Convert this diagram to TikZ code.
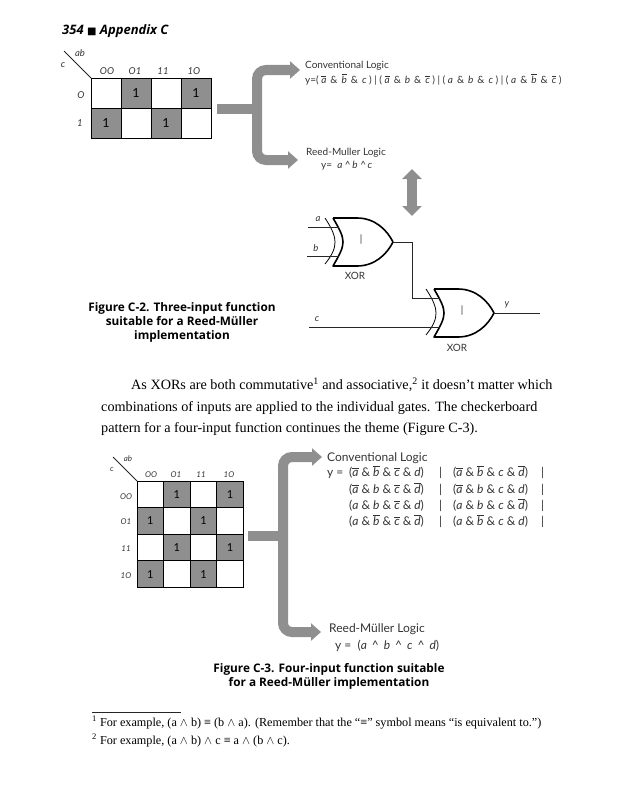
\documentclass[tikz,border=0pt]{standalone}
\usepackage{fontspec}
\setmainfont{Liberation Serif}
\newfontfamily\handfont{Lato}
\newfontfamily\capfont{Open Sans}
\newfontfamily\symbfont{DejaVu Sans}
\usepackage{tikz}
\usetikzlibrary{arrows.meta,calc}

% italic letter, with and without a bar
\newcommand{\vn}[1]{\textit{#1}}
\newcommand{\vb}[1]{$\overline{\hbox{\textit{#1}}}$}
\newcommand{\amp}{\hspace{4pt}\&\hspace{4pt}}
\newcommand{\crt}{\hspace{5pt}\textasciicircum\hspace{5pt}}

\tikzset{
    xorgate/.pic={
        \draw[line width=1.6pt, line join=round] (0,-24) -- (24,-24) .. controls (42,-24) and (54,-12) .. (60,0)
            .. controls (54,12) and (42,24) .. (24,24) -- (0,24)
            .. controls (7,12) and (10,6) .. (10,0) .. controls (10,-6) and (7,-12) .. (0,-24);
        \draw[line width=0.8pt] (-8,-24) .. controls (0,-12) and (2,-5) .. (2,0) .. controls (2,6) and (0,12) .. (-8,22);
        \node[hand] (-op) at (28,-2) {|};
        \coordinate (-ina) at (6,-15);
        \coordinate (-inb) at (6,14);
        \coordinate (-out) at (60,0);
    }
}

\begin{document}
\begin{tikzpicture}[x=1pt, y=-1pt,
    hand/.style={font=\handfont\fontsize{10}{11}\selectfont, text=black!80, inner sep=0pt},
    handbig/.style={font=\handfont\fontsize{12}{13}\selectfont, text=black!80, inner sep=0pt, anchor=base west},
    smallhand/.style={hand, font=\handfont\itshape\fontsize{9.5}{10}\selectfont},
    tinyhand/.style={hand, font=\handfont\itshape\fontsize{8}{9}\selectfont},
    cell/.style={rectangle, draw, line width=1pt, fill=white, inner sep=0pt, outer sep=0pt},
    onecell/.style={cell, fill=kmapgray, font=\handfont\fontsize{12.5}{12}\selectfont},
    fatline/.style={line width=10pt, draw=kmapgray, rounded corners=9pt},
    fatarrow/.style={fatline, -{Triangle[length=10pt,width=17pt]}},
    fatboth/.style={line width=10pt, draw=kmapgray, {Triangle[length=10pt,width=19pt]}-{Triangle[length=10pt,width=19pt]}},
    wire/.style={line width=0.8pt, draw=black!85},
    figcap/.style={font=\capfont\bfseries\fontsize{11.8}{14}\selectfont, align=center, inner sep=0pt},
    body/.style={font=\fontsize{14.2}{21.5}\selectfont, align=left, anchor=north west, inner sep=0pt},
    foot/.style={font=\fontsize{12.2}{18}\selectfont, align=left, anchor=north west, inner sep=0pt}
]
\definecolor{kmapgray}{gray}{0.56}
\useasboundingbox (0,0) rectangle (618,800);

% Page head
\node[font=\capfont\bfseries\itshape\fontsize{13}{15}\selectfont, anchor=west, inner sep=0pt] (pagehead) at (62,31)
    {354 {\symbfont\fontsize{10}{10}\selectfont ■} Appendix C};

% Three input map
\foreach \col/\lab/\cx in {0/OO/107, 1/O1/135, 2/11/163, 3/1O/194} {
    \node[smallhand] (mapAtop\col) at (\cx,71) {\lab};
}
\node[smallhand] (mapArow0) at (81,95) {O};
\node[smallhand] (mapArow1) at (80,123) {1};
\foreach \row/\cols in {0/{1,3}, 1/{0,2}} {
    \foreach \col in {0,1,2,3} {
        \node[cell, minimum size=30pt] (mapA\row\col) at ({106+30*\col},{93+30*\row}) {};
    }
    \foreach \col in \cols {
        \node[onecell, minimum size=30pt] (mapA\row\col) at ({106+30*\col},{93+30*\row}) {1};
    }
}
\coordinate (mapAcut) at (64,51);
\draw[wire] (mapAcut) -- (mapA00.north west);
\node[smallhand] (mapAab) at (80,53) {ab};
\node[smallhand] (mapAc) at (63,65) {c};

% Three input arrows
\coordinate (stubA) at (217,109);
\coordinate (forkA) at (257,109);
\coordinate (upA) at (300,70);
\coordinate (downA) at (298,160);
\draw[fatarrow] (forkA) |- (upA);
\draw[fatarrow] (forkA) |- (downA);
\draw[fatline] (stubA) -- (forkA);

% Three input text
\node[hand, anchor=base west] (convA) at (305,69) {Conventional Logic};
\node[hand, anchor=base west] (exprA) at (305,83)
    {y=( \vb{a}\amp\vb{b}\amp\vn{c} ) | ( \vb{a}\amp\vn{b}\amp\vb{c} ) | ( \vn{a}\amp\vn{b}\amp\vn{c} ) | ( \vn{a}\amp\vb{b}\amp\vb{c} )};
\node[hand, anchor=base west] (reedA) at (306,155) {Reed-Muller Logic};
\node[hand, anchor=base west] (rmA) at (321,168) {y=\ \ \vn{a} \textasciicircum\,\vn{b} \textasciicircum\,\vn{c}};

% Both ways arrow
\coordinate (twoUp) at (412,169);
\coordinate (twoDown) at (412,216);
\draw[fatboth] (twoUp) -- (twoDown);

% XOR gates
\pic (xora) at (333,242) {xorgate};
\pic (xorb) at (434,313) {xorgate};
\node[hand] (xoralab) at (355,276) {XOR};
\node[hand] (xorblab) at (457,348) {XOR};
\node[smallhand] (laba) at (318,219) {a};
\node[smallhand] (labb) at (316,248) {b};
\node[smallhand] (labc) at (317,319) {c};
\node[smallhand] (laby) at (507,305) {y};

% Wires
\coordinate (ina) at (308,227);
\coordinate (inb) at (307,256);
\coordinate (inc) at (309,327);
\coordinate (outy) at (540,313);
\coordinate (bend) at (412,298);
\draw[wire] (ina) -- (xora-ina);
\draw[wire] (inb) -- (xora-inb);
\draw[wire] (inc) -- (xorb-inb);
\draw[wire] (xora-out) -| (bend) -- (xorb-ina);
\draw[wire] (xorb-out) -- (outy);

% Captions and text
\node[figcap] (capA) at (182,322) {Figure C-2. Three-input function\\suitable for a Reed-Müller\\implementation};
\node[body] (para) at (101,377.5) {\hspace{30pt}As XORs are both commutative\textsuperscript{1} and associative,\textsuperscript{2} it doesn't matter which\\
    combinations of inputs are applied to the individual gates. The checkerboard\\
    pattern for a four-input function continues the theme (Figure C-3).};

% Four input map
\foreach \col/\lab/\cx in {0/OO/151, 1/O1/176, 2/11/201, 3/1O/229} {
    \node[tinyhand] (mapBtop\col) at (\cx,475) {\lab};
}
\foreach \row/\lab/\cy in {0/OO/497, 1/O1/522, 2/11/549, 3/1O/576} {
    \node[tinyhand] (mapBrow\row) at (126,\cy) {\lab};
}
\foreach \row/\cols in {0/{1,3}, 1/{0,2}, 2/{1,3}, 3/{0,2}} {
    \foreach \col in {0,1,2,3} {
        \node[cell, minimum size=26.6pt] (mapB\row\col) at ({150.3+26.6*\col},{494.3+26.6*\row}) {};
    }
    \foreach \col in \cols {
        \node[onecell, minimum size=26.6pt, font=\handfont\fontsize{11}{11}\selectfont] (mapB\row\col) at ({150.3+26.6*\col},{494.3+26.6*\row}) {1};
    }
}
\coordinate (mapBcut) at (113,457);
\draw[wire] (mapBcut) -- (mapB00.north west);
\node[tinyhand] (mapBab) at (128,459) {ab};
\node[tinyhand] (mapBc) at (112,469) {c};

% Four input arrows
\coordinate (stubB) at (248,536);
\coordinate (forkB) at (283,536);
\coordinate (upB) at (322,457);
\coordinate (downB) at (321,632);
\draw[fatarrow] (forkB) |- (upB);
\draw[fatarrow] (forkB) |- (downB);
\draw[fatline] (stubB) -- (forkB);

% Four input text
\node[handbig] (convB) at (327,461) {Conventional Logic};
\node[handbig] (yeq) at (327,476) {y =};
\foreach \row/\ya/\yb/\base in {
    0/{\vb{a} \& \vb{b} \& \vb{c} \& \vn{d}}/{\vb{a} \& \vb{b} \& \vn{c} \& \vb{d}}/476,
    1/{\vb{a} \& \vn{b} \& \vb{c} \& \vb{d}}/{\vb{a} \& \vn{b} \& \vn{c} \& \vn{d}}/493,
    2/{\vn{a} \& \vn{b} \& \vb{c} \& \vn{d}}/{\vn{a} \& \vn{b} \& \vn{c} \& \vb{d}}/509,
    3/{\vn{a} \& \vb{b} \& \vb{c} \& \vb{d}}/{\vn{a} \& \vb{b} \& \vn{c} \& \vn{d}}/525} {
    \node[handbig] (termA\row) at (349,\base) {(\ya)};
    \node[handbig] (barA\row) at (439,\base) {|};
    \node[handbig] (termB\row) at (453,\base) {(\yb)};
    \node[handbig] (barB\row) at (541,\base) {|};
}
\node[handbig] (reedB) at (329,632) {Reed-Müller Logic};
\node[handbig] (rmB) at (335,649) {y = \ (\vn{a}\crt\vn{b}\crt\vn{c}\crt\vn{d})};

\node[figcap] (capB) at (329,676) {Figure C-3. Four-input function suitable\\for a Reed-Müller implementation};

% Footnotes
\coordinate (ruleL) at (92,712);
\coordinate (ruleR) at (181,712);
\draw[wire] (ruleL) -- (ruleR);
\node[foot] (notes) at (92,716) {\textsuperscript{1} For example, (a $\wedge$ b) ≡ (b $\wedge$ a). (Remember that the “≡” symbol means “is equivalent to.”)\\
    \textsuperscript{2} For example, (a $\wedge$ b) $\wedge$ c ≡ a $\wedge$ (b $\wedge$ c).};

\end{tikzpicture}
\end{document}
